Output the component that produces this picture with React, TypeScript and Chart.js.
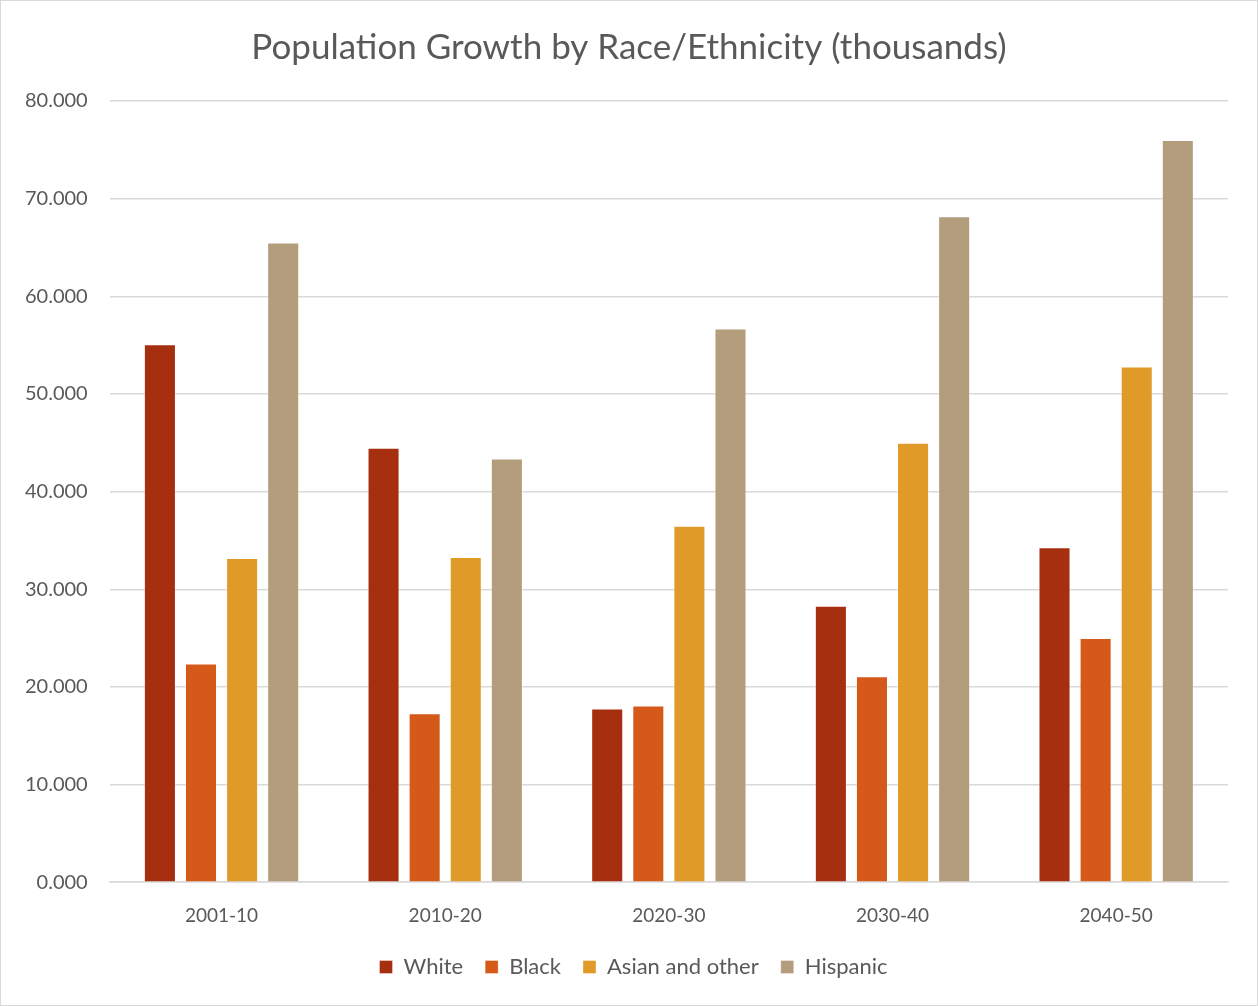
import React, { useEffect, useRef } from "react";
import { Chart, registerables } from "chart.js";

Chart.register(...registerables);

const categories = ["2001-10", "2010-20", "2020-30", "2030-40", "2040-50"];
const white = [55.1, 44.5, 17.8, 28.3, 34.3];
const black = [22.4, 17.3, 18.1, 21.1, 25.0];
const asian = [33.2, 33.3, 36.5, 45.0, 52.8];
const hispanic = [65.5, 43.4, 56.7, 68.2, 76.0];
const seriesNames = ["White", "Black", "Asian and other", "Hispanic"];
const colors = ["#A62F10", "#D55A1A", "#E09A27", "#B39D7C"];
const titleText = "Population Growth by Race/Ethnicity (thousands)";

const FONT = "Lato, 'Open Sans', sans-serif";
const TITLE_SIZE = 35;
const LEGEND_SHIFT = 18;

const centeredTitle = {
  id: "centeredTitle",
  afterDraw(chart: any) {
    const tb = chart.titleBlock;
    if (!tb) return;
    const ctx = chart.ctx;
    ctx.save();
    ctx.fillStyle = "#595959";
    ctx.font = `normal ${TITLE_SIZE}px ${FONT}`;
    ctx.textAlign = "center";
    ctx.textBaseline = "middle";
    const y = tb.top + 16 + (TITLE_SIZE * 1.2) / 2;
    ctx.fillText(titleText, chart.width / 2, y);
    ctx.restore();
  },
};

export default function App() {
  const ref = useRef<HTMLCanvasElement | null>(null);
  useEffect(() => {
    document.body.style.margin = "0";
    const values = [white, black, asian, hispanic];
    const chart: any = new Chart(ref.current!, {
      type: "bar",
      data: {
        labels: categories,
        datasets: seriesNames.map((n, i) => ({
          label: n,
          data: values[i],
          backgroundColor: colors[i],
          borderColor: "rgba(255,255,255,0.35)",
          borderWidth: 1,
          categoryPercentage: 0.735,
          barPercentage: 0.78,
        })),
      },
      plugins: [centeredTitle],
      options: {
        responsive: false,
        animation: false,
        maintainAspectRatio: false,
        layout: { padding: { left: 2, right: 29, top: 10, bottom: 17 } },
        plugins: {
          title: {
            display: true,
            text: titleText,
            color: "rgba(0,0,0,0)",
            font: { family: FONT, size: TITLE_SIZE, weight: "normal" },
            padding: { top: 16, bottom: 32 },
          },
          legend: {
            position: "bottom",
            labels: {
              boxWidth: 13,
              boxHeight: 13,
              color: "#595959",
              font: { family: FONT, size: 22 },
              padding: 22,
            },
          },
          tooltip: { enabled: false },
        },
        scales: {
          x: {
            grid: { display: false },
            border: { color: "#d9d9d9", width: 1.5 },
            ticks: { color: "#595959", font: { family: FONT, size: 19 }, padding: 14 },
            afterFit: (scale: any) => {
              scale.height -= 7;
            },
          },
          y: {
            min: 0,
            max: 80,
            grid: { color: "#d9d9d9", lineWidth: 1.5, drawTicks: false },
            border: { display: false },
            ticks: {
              stepSize: 10,
              color: "#595959",
              font: { family: FONT, size: 20 },
              padding: 22,
              callback: (v: any) => Number(v).toFixed(3),
            },
          },
        },
      },
    });
    const legend = chart.legend;
    if (legend) {
      const origDraw = legend.draw.bind(legend);
      legend.draw = (...args: any[]) => {
        const ctx = chart.ctx;
        ctx.save();
        ctx.translate(LEGEND_SHIFT, 0);
        origDraw(...args);
        ctx.restore();
      };
      chart.draw();
    }
    return () => chart.destroy();
  }, []);
  return (
    <div
      style={{
        position: "absolute",
        left: 0,
        top: 0,
        width: 1258,
        height: 1006,
        boxSizing: "border-box",
        border: "1px solid #d9d9d9",
        background: "#fff",
      }}
    >
      <canvas ref={ref} width={1256} height={1004} style={{ display: "block" }} />
    </div>
  );
}
